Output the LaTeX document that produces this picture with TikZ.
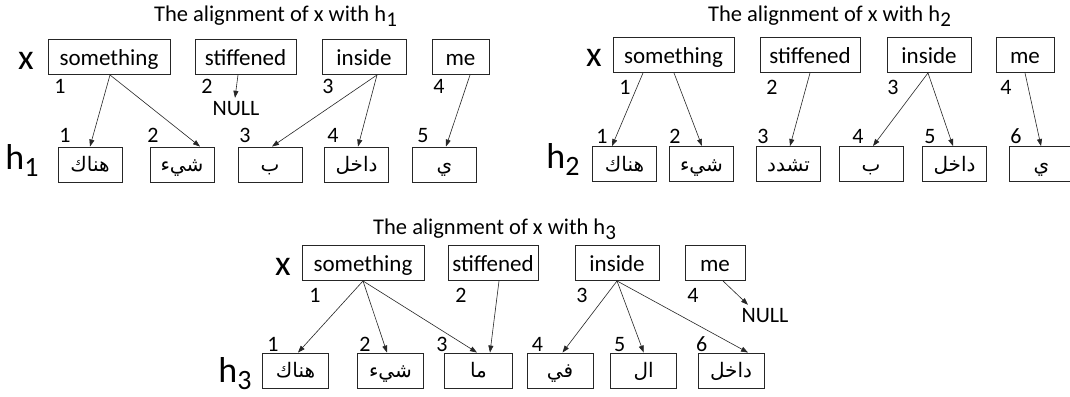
\documentclass[tikz,border=0pt]{standalone}
\usepackage{fontspec}
\setmainfont{Carlito}
\newfontfamily\arabicfont[Script=Arabic]{DejaVu Sans}
\TeXXeTstate=1
\usetikzlibrary{arrows.meta}
\newcommand\mysub[1]{\raisebox{-5pt}{\fontsize{21}{21}\selectfont #1}}
\newcommand\bigsub[1]{\raisebox{-7pt}{\fontsize{28}{28}\selectfont #1}}
\newcommand\ar[1]{{\arabicfont\beginR #1\endR}}
\tikzset{
  box/.style={draw=black!85, line width=0.9pt, inner sep=0pt, minimum height=35pt,
    text height=20pt, text depth=3pt, font=\fontsize{23}{26}\selectfont},
  hbox/.style={box, minimum width=64pt, text height=17pt, text depth=3pt, font=\fontsize{20}{22}\selectfont},
  num/.style={inner sep=0pt, text height=14pt, text depth=0pt, font=\fontsize{22}{24}\selectfont},
  big/.style={inner sep=0pt, font=\fontsize{36}{38}\selectfont},
  ttl/.style={inner sep=0pt, font=\fontsize{22.5}{26}\selectfont},
  arr/.style={draw=black!85, line width=0.6pt, -{Triangle[length=7pt,width=5pt]}}
}
\begin{document}
\begin{tikzpicture}[x=1pt,y=-1pt]
\useasboundingbox (0,0) rectangle (1070,396);
\clip (0,0) rectangle (1070,396);
\fill[white] (0,0) rectangle (1070,396);

% ---------------- Panel 1 ----------------
\node[ttl] (t1) at (275.5,16) {The alignment of x with h\mysub{1}};
\node[big] (x1) at (26,61) {x};
\node[big] (h1) at (22,161) {h\bigsub{1}};
\node[box, minimum width=122pt] (a1) at (109,57) {something};
\node[box, minimum width=101pt] (a2) at (245.5,57) {stiffened};
\node[box, minimum width=84pt] (a3) at (364,57) {inside};
\node[box, minimum width=57pt] (a4) at (460.5,57) {me};
\node[num] (an1) at (60,86) {1};
\node[num] (an2) at (207,86) {2};
\node[num] (an3) at (328,86) {3};
\node[num] (an4) at (439,86) {4};
\node[num] (null1) at (236,108) {NULL};
\node[hbox] (b1) at (90,164.5) {\ar{هناك}};
\node[hbox] (b2) at (182,164.5) {\ar{شيء}};
\node[hbox] (b3) at (270,164.5) {\ar{ب}};
\node[hbox] (b4) at (356.5,164.5) {\ar{داخل}};
\node[hbox] (b5) at (444.5,164.5) {\ar{ي}};
\node[num] (bn1) at (65,135) {1};
\node[num] (bn2) at (153,135) {2};
\node[num] (bn3) at (245,135) {3};
\node[num] (bn4) at (333,135) {4};
\node[num] (bn5) at (423,135) {5};
\draw[arr] ([xshift=1pt]a1.south) -- (b1.north);
\draw[arr] ([xshift=1pt]a1.south) -- ([xshift=18pt]b2.north);
\draw[arr] ([xshift=-7.5pt]a2.south) -- ([xshift=-1pt,yshift=3pt]null1.north);
\draw[arr] ([xshift=13pt]a3.south) -- ([xshift=2pt]b3.north);
\draw[arr] ([xshift=13pt]a3.south) -- ([xshift=1.5pt]b4.north);
\draw[arr] ([xshift=9.5pt]a4.south) -- ([xshift=1.5pt]b5.north);

% ---------------- Panel 2 ----------------
\node[ttl] (t2) at (829.5,16) {The alignment of x with h\mysub{2}};
\node[big] (x2) at (594,58) {x};
\node[big] (h2) at (563,159) {h\bigsub{2}};
\node[box, minimum width=121pt] (c1) at (673.5,55) {something};
\node[box, minimum width=100pt] (c2) at (810,55) {stiffened};
\node[box, minimum width=84pt] (c3) at (929,55) {inside};
\node[box, minimum width=58pt] (c4) at (1025,55) {me};
\node[num] (cn1) at (625,87) {1};
\node[num] (cn2) at (772,87) {2};
\node[num] (cn3) at (893,87) {3};
\node[num] (cn4) at (1006,87) {4};
\node[hbox] (d1) at (624.5,164) {\ar{هناك}};
\node[hbox] (d2) at (701.5,164) {\ar{شيء}};
\node[hbox] (d3) at (788.5,164) {\ar{تشدد}};
\node[hbox] (d4) at (871,164) {\ar{ب}};
\node[hbox] (d5) at (954.5,164) {\ar{داخل}};
\node[hbox, minimum width=65pt] (d6) at (1041.5,164) {\ar{ي}};
\node[num] (dn1) at (602,136) {1};
\node[num] (dn2) at (675,136) {2};
\node[num] (dn3) at (763,136) {3};
\node[num] (dn4) at (858,136) {4};
\node[num] (dn5) at (930,136) {5};
\node[num] (dn6) at (1016,136) {6};
\draw[arr] ([xshift=-30.5pt]c1.south) -- ([xshift=-12.5pt]d1.north);
\draw[arr] ([xshift=0.5pt]c1.south) -- ([xshift=0.5pt]d2.north);
\draw[arr] (c2.south) -- ([xshift=1.5pt]d3.north);
\draw[arr] ([xshift=-1pt]c3.south) -- ([xshift=2pt]d4.north);
\draw[arr] ([xshift=-1pt]c3.south) -- ([xshift=-1.5pt]d5.north);
\draw[arr] (c4.south) -- ([xshift=-0.5pt]d6.north);

% ---------------- Panel 3 ----------------
\node[ttl] (t3) at (494.6,229) {The alignment of x with h\mysub{3}};
\node[big] (x3) at (283,267) {x};
\node[big] (h3) at (235,374) {h\bigsub{3}};
\node[box, minimum width=122pt] (e1) at (363,263) {something};
\node[box, minimum width=90pt] (e2) at (493,263) {stiffened};
\node[box, minimum width=84pt] (e3) at (617,263) {inside};
\node[box, minimum width=60pt] (e4) at (715,263) {me};
\node[num] (en1) at (315,295) {1};
\node[num] (en2) at (461,295) {2};
\node[num] (en3) at (582,295) {3};
\node[num] (en4) at (693,295) {4};
\node[num] (null3) at (765,315) {NULL};
\node[hbox, minimum width=66pt] (f1) at (295.5,370.5) {\ar{هناك}};
\node[hbox, minimum width=66pt] (f2) at (390.5,370.5) {\ar{شيء}};
\node[hbox, minimum width=68pt] (f3) at (478.5,370.5) {\ar{ما}};
\node[hbox, minimum width=66pt] (f4) at (560,370.5) {\ar{في}};
\node[hbox, minimum width=66pt] (f5) at (643.7,370.5) {\ar{ال}};
\node[hbox, minimum width=66pt] (f6) at (731,370.5) {\ar{داخل}};
\node[num] (fn1) at (273,344) {1};
\node[num] (fn2) at (365,344) {2};
\node[num] (fn3) at (442,344) {3};
\node[num] (fn4) at (537.5,344) {4};
\node[num] (fn5) at (619.6,344) {5};
\node[num] (fn6) at (701.8,344) {6};
\draw[arr] (e1.south) -- ([xshift=2.5pt]f1.north);
\draw[arr] (e1.south) -- ([xshift=-3.5pt]f2.north);
\draw[arr] (e1.south) -- ([xshift=-1.5pt]f3.north);
\draw[arr] ([xshift=6pt]e2.south) -- ([xshift=11.5pt]f3.north);
\draw[arr] (e3.south) -- ([xshift=2.5pt]f4.north);
\draw[arr] (e3.south) -- (f5.north);
\draw[arr] (e3.south) -- ([xshift=17pt]f6.north);
\draw[arr] ([xshift=8pt]e4.south) -- ([xshift=-17pt,yshift=3pt]null3.north);
\end{tikzpicture}
\end{document}
